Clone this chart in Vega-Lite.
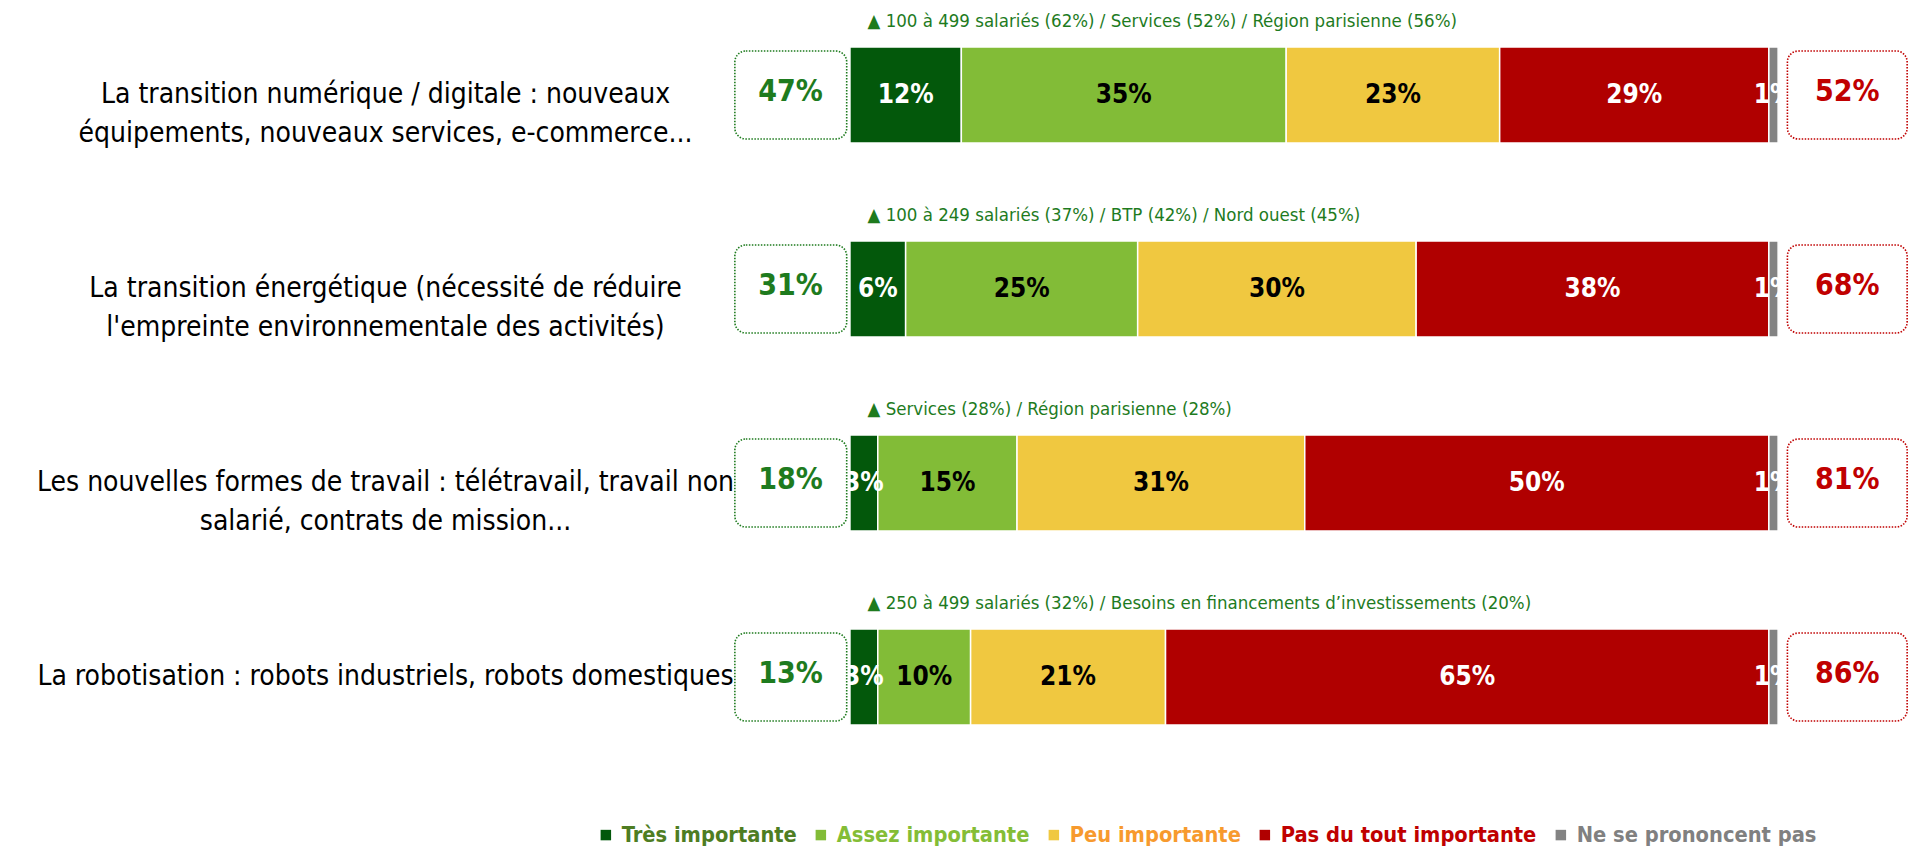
{
  "$schema": "https://vega.github.io/schema/vega-lite/v6.json",
  "autosize": {"type": "none"},
  "padding": {"left": 733, "top": 0, "right": 2, "bottom": 75},
  "width": 1176,
  "height": 772,
  "background": "white",
  "config": {"view": {"stroke": null}, "font": "'DejaVu Sans Condensed', 'DejaVu Sans', sans-serif"},
  "datasets": {
    "bars": [
      {"item": "La transition numérique / digitale : nouveaux|équipements, nouveaux services, e-commerce...", "cat": "Très importante", "order": 1, "value": 12},
      {"item": "La transition numérique / digitale : nouveaux|équipements, nouveaux services, e-commerce...", "cat": "Assez importante", "order": 2, "value": 35},
      {"item": "La transition numérique / digitale : nouveaux|équipements, nouveaux services, e-commerce...", "cat": "Peu importante", "order": 3, "value": 23},
      {"item": "La transition numérique / digitale : nouveaux|équipements, nouveaux services, e-commerce...", "cat": "Pas du tout importante", "order": 4, "value": 29},
      {"item": "La transition numérique / digitale : nouveaux|équipements, nouveaux services, e-commerce...", "cat": "Ne se prononcent pas", "order": 5, "value": 1},
      {"item": "La transition énergétique (nécessité de réduire|l'empreinte environnementale des activités)", "cat": "Très importante", "order": 1, "value": 6},
      {"item": "La transition énergétique (nécessité de réduire|l'empreinte environnementale des activités)", "cat": "Assez importante", "order": 2, "value": 25},
      {"item": "La transition énergétique (nécessité de réduire|l'empreinte environnementale des activités)", "cat": "Peu importante", "order": 3, "value": 30},
      {"item": "La transition énergétique (nécessité de réduire|l'empreinte environnementale des activités)", "cat": "Pas du tout importante", "order": 4, "value": 38},
      {"item": "La transition énergétique (nécessité de réduire|l'empreinte environnementale des activités)", "cat": "Ne se prononcent pas", "order": 5, "value": 1},
      {"item": "Les nouvelles formes de travail : télétravail, travail non|salarié, contrats de mission...", "cat": "Très importante", "order": 1, "value": 3},
      {"item": "Les nouvelles formes de travail : télétravail, travail non|salarié, contrats de mission...", "cat": "Assez importante", "order": 2, "value": 15},
      {"item": "Les nouvelles formes de travail : télétravail, travail non|salarié, contrats de mission...", "cat": "Peu importante", "order": 3, "value": 31},
      {"item": "Les nouvelles formes de travail : télétravail, travail non|salarié, contrats de mission...", "cat": "Pas du tout importante", "order": 4, "value": 50},
      {"item": "Les nouvelles formes de travail : télétravail, travail non|salarié, contrats de mission...", "cat": "Ne se prononcent pas", "order": 5, "value": 1},
      {"item": "La robotisation : robots industriels, robots domestiques", "cat": "Très importante", "order": 1, "value": 3},
      {"item": "La robotisation : robots industriels, robots domestiques", "cat": "Assez importante", "order": 2, "value": 10},
      {"item": "La robotisation : robots industriels, robots domestiques", "cat": "Peu importante", "order": 3, "value": 21},
      {"item": "La robotisation : robots industriels, robots domestiques", "cat": "Pas du tout importante", "order": 4, "value": 65},
      {"item": "La robotisation : robots industriels, robots domestiques", "cat": "Ne se prononcent pas", "order": 5, "value": 1}
    ],
    "rows": [
      {"item": "La transition numérique / digitale : nouveaux|équipements, nouveaux services, e-commerce...", "note": "100 à 499 salariés (62%) / Services (52%) / Région parisienne (56%)", "pos": 47, "neg": 52},
      {"item": "La transition énergétique (nécessité de réduire|l'empreinte environnementale des activités)", "note": "100 à 249 salariés (37%) / BTP (42%) / Nord ouest (45%)", "pos": 31, "neg": 68},
      {"item": "Les nouvelles formes de travail : télétravail, travail non|salarié, contrats de mission...", "note": "Services (28%) / Région parisienne (28%)", "pos": 18, "neg": 81},
      {"item": "La robotisation : robots industriels, robots domestiques", "note": "250 à 499 salariés (32%) / Besoins en financements d’investissements (20%)", "pos": 13, "neg": 86}
    ]
  },
  "encoding": {
    "y": {
      "field": "item",
      "type": "nominal",
      "sort": null,
      "scale": {"paddingInner": 0.505, "paddingOuter": 0.242},
      "axis": {
        "title": null,
        "domain": false,
        "ticks": false,
        "labelExpr": "split(datum.value, '|')",
        "labelFont": "'DejaVu Sans Condensed', 'DejaVu Sans', sans-serif",
        "labelFontSize": 28,
        "labelLineHeight": 39,
        "labelColor": "black",
        "labelAlign": "center",
        "labelBaseline": "middle",
        "labelPadding": 348,
        "labelLimit": 0
      }
    }
  },
  "layer": [
    {
      "data": {"name": "bars"},
      "mark": {"type": "bar", "stroke": "white", "strokeWidth": 1.5},
      "encoding": {
        "x": {"field": "value", "type": "quantitative", "stack": "zero", "scale": {"domain": [-12.6, 114.1], "nice": false, "zero": false}, "axis": null},
        "order": {"field": "order", "type": "quantitative"},
        "color": {
          "field": "cat",
          "type": "nominal",
          "scale": {
            "domain": ["Très importante", "Assez importante", "Peu importante", "Pas du tout importante", "Ne se prononcent pas"],
            "range": ["#03580B", "#82BC37", "#F0C840", "#B00000", "#838383"]
          },
          "legend": {
            "title": null,
            "orient": "none",
            "direction": "horizontal",
            "columns": 5,
            "legendX": -138,
            "legendY": 824,
            "symbolType": "square",
            "symbolSize": 110,
            "symbolStrokeWidth": 0,
            "labelFont": "'DejaVu Sans Condensed', 'DejaVu Sans', sans-serif",
            "labelFontSize": 21.7,
            "labelFontWeight": "bold",
            "labelOffset": 5,
            "columnPadding": 13,
            "labelLimit": 0,
            "labelColor": {"expr": "datum.label == 'Très importante' ? '#4E7D22' : datum.label == 'Assez importante' ? '#84BD36' : datum.label == 'Peu importante' ? '#F79A2E' : datum.label == 'Pas du tout importante' ? '#C00000' : '#808080'"}
          }
        }
      }
    },
    {
      "data": {"name": "bars"},
      "transform": [
        {"stack": "value", "groupby": ["item"], "sort": [{"field": "order"}], "as": ["v0", "v1"]},
        {"calculate": "(datum.v0 + datum.v1) / 2", "as": "mid"},
        {"calculate": "datum.value + '%'", "as": "label"}
      ],
      "mark": {"type": "text", "fontSize": 26, "fontWeight": "bold", "align": "center", "baseline": "middle"},
      "encoding": {
        "x": {"field": "mid", "type": "quantitative"},
        "text": {"field": "label"},
        "color": {"condition": {"test": "datum.cat == 'Assez importante' || datum.cat == 'Peu importante'", "value": "black"}, "value": "white"}
      }
    },
    {
      "data": {"name": "rows"},
      "mark": {"type": "bar", "height": 88, "fill": "white", "stroke": "#1E7B1E", "strokeWidth": 1.6, "strokeDash": [1.5, 1.5], "cornerRadius": 11},
      "encoding": {"x": {"datum": -12.4}, "x2": {"datum": -0.35}}
    },
    {
      "data": {"name": "rows"},
      "mark": {"type": "bar", "height": 88, "fill": "white", "stroke": "#C00000", "strokeWidth": 1.6, "strokeDash": [1.5, 1.5], "cornerRadius": 11},
      "encoding": {"x": {"datum": 101.0}, "x2": {"datum": 113.9}}
    },
    {
      "data": {"name": "rows"},
      "transform": [{"calculate": "datum.pos + '%'", "as": "plabel"}],
      "mark": {"type": "text", "fontSize": 30, "fontWeight": "bold", "align": "center", "baseline": "middle", "color": "#1E7B1E", "yOffset": -3},
      "encoding": {"x": {"datum": -6.4}, "text": {"field": "plabel"}}
    },
    {
      "data": {"name": "rows"},
      "transform": [{"calculate": "datum.neg + '%'", "as": "nlabel"}],
      "mark": {"type": "text", "fontSize": 30, "fontWeight": "bold", "align": "center", "baseline": "middle", "color": "#C00000", "yOffset": -3},
      "encoding": {"x": {"datum": 107.45}, "text": {"field": "nlabel"}}
    },
    {
      "data": {"name": "rows"},
      "transform": [{"calculate": "'▲  ' + datum.note", "as": "nlab"}],
      "mark": {"type": "text", "fontSize": 18.5, "align": "left", "baseline": "middle", "color": "#1E7B1E", "yOffset": -74},
      "encoding": {"x": {"datum": 1.9}, "text": {"field": "nlab"}}
    }
  ]
}
